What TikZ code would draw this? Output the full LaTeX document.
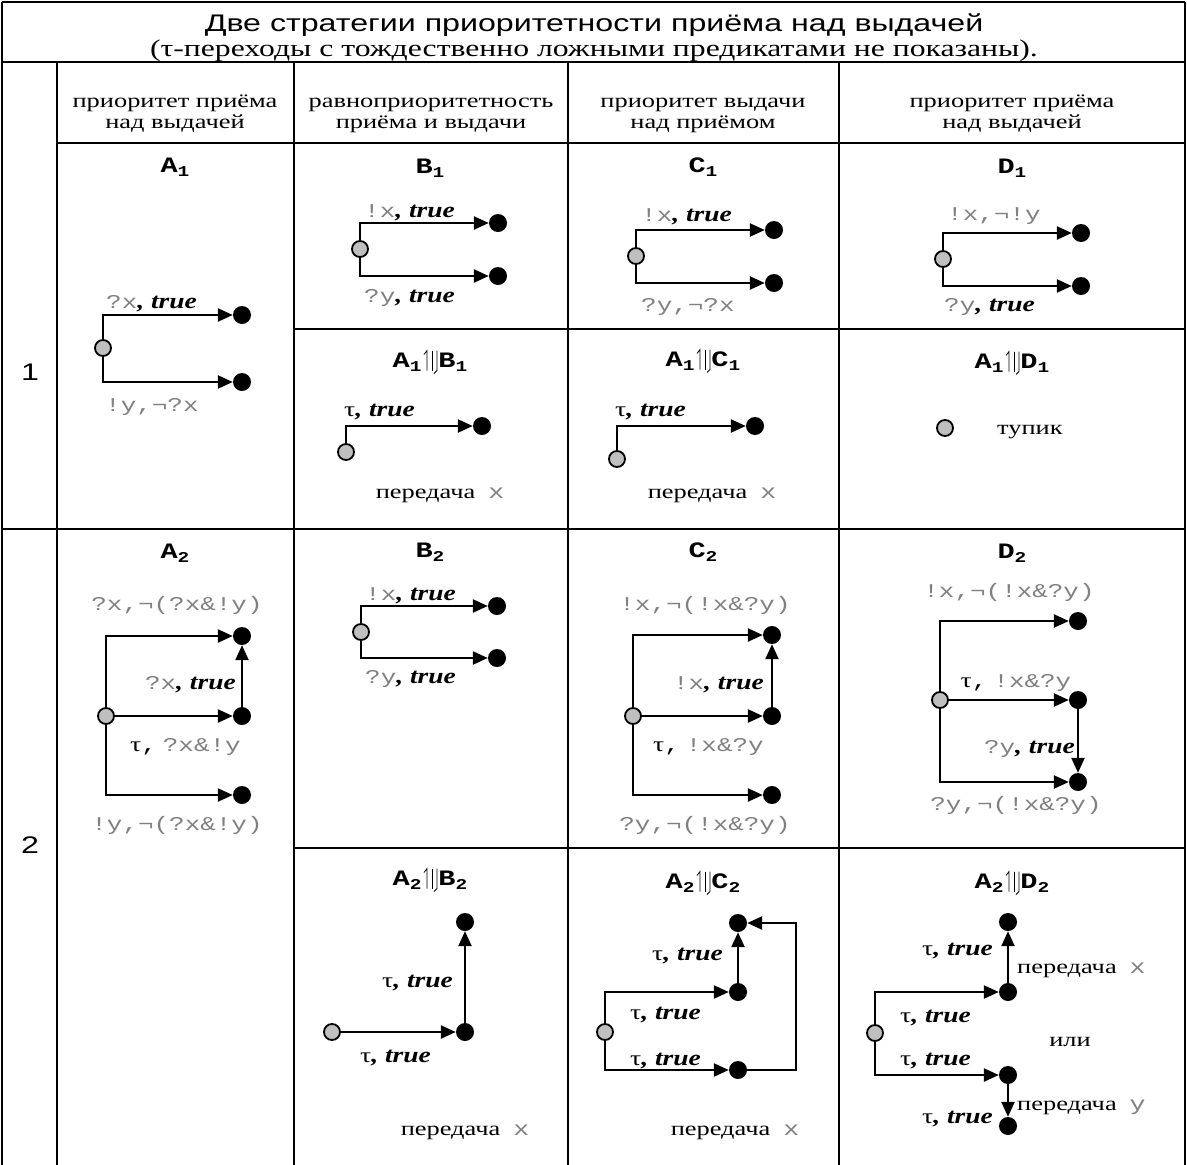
\documentclass[tikz,border=0pt]{standalone}
\usepackage{fontspec}
\setmainfont{Liberation Serif}[FakeStretch=1.32]
\newfontfamily\sansf{Liberation Sans}[FakeStretch=1.34]
\newfontfamily\monof{Liberation Mono}[FakeStretch=1.33]
\newfontfamily\codef{Liberation Mono}[FakeStretch=1.3]
\newfontfamily\trf{Liberation Serif}[FakeStretch=1.25]
\usetikzlibrary{arrows.meta}
\definecolor{txtgray}{gray}{0.5}
\definecolor{stgray}{gray}{0.75}
\newcommand\tru{{\color{black}\trf\bfseries\itshape\fontsize{22}{24}\selectfont, true}}
\newcommand\tauc{{\color{black}\rmfamily\fontsize{21}{24}\selectfont τ}}
\newcommand\nm[2]{{\codef\bfseries\fontsize{22}{24}\selectfont #1\raisebox{-4pt}{\fontsize{15}{15}\selectfont #2}}}
\newcommand\pop{\tikz[baseline=0pt,line width=0.8pt,x=1pt,y=1pt]{\draw (0,13)--(3,17)--(3,-3); \draw (8,17)--(8,-3); \draw (13,17)--(13,-3)--(10,-6);}}
\newcommand\comp[4]{\nm{#1}{#2}\hspace{2pt}\pop\hspace{1pt}\nm{#3}{#4}}
\newcommand\xm[1]{\hspace{13pt}{\monof\color{txtgray}#1}}
\newcommand\tc{\tauc{\color{black},}\hspace{6pt}}
\begin{document}
\begin{tikzpicture}[x=1pt,y=-1pt,
 grid/.style={line width=2pt},
 st/.style={circle,draw,line width=1.8pt,fill=stgray,minimum size=16pt,inner sep=0pt},
 dt/.style={circle,fill=black,minimum size=18pt,inner sep=0pt},
 tr/.style={line width=2.4pt,-{Triangle[length=15pt,width=13pt]}},
 lbl/.style={inner sep=0pt,font=\monof\fontsize{19.5}{22}\selectfont,text=txtgray},
 ser/.style={inner sep=0pt,font=\rmfamily\fontsize{20}{24}\selectfont},
 hd/.style={inner sep=0pt,font=\rmfamily\fontsize{20}{24}\selectfont,anchor=base},
 ttl/.style={inner sep=0pt}]
\useasboundingbox (0,0) rectangle (1187,1165);
% table
\draw[grid] (2,2) -- (1185,2);
\draw[grid] (2,2) -- (2,1165);
\draw[grid] (1185,2) -- (1185,1165);
\draw[grid] (2,62) -- (1185,62);
\draw[grid] (57,62) -- (57,1165);
\draw[grid] (294,62) -- (294,1165);
\draw[grid] (568,62) -- (568,1165);
\draw[grid] (839,62) -- (839,1165);
\draw[grid] (57,143) -- (1185,143);
\draw[grid] (294,329) -- (1185,329);
\draw[grid] (2,529) -- (1185,529);
\draw[grid] (294,848) -- (1185,848);
% title
\node[inner sep=0pt,anchor=base,font=\sansf\fontsize{24}{28}\selectfont] (title) at (594,31) {Две стратегии приоритетности приёма над выдачей};
\node[inner sep=0pt,anchor=base,font=\rmfamily\fontsize{24}{28}\selectfont] (subtitle) at (594,56) {(τ-переходы с тождественно ложными предикатами не показаны).};
% headers
\node[hd] (h1a) at (175,107) {приоритет приёма};
\node[hd] (h1b) at (175,128) {над выдачей};
\node[hd] (h2a) at (431,107) {равноприоритетность};
\node[hd] (h2b) at (431,128) {приёма и выдачи};
\node[hd] (h3a) at (703,107) {приоритет выдачи};
\node[hd] (h3b) at (703,128) {над приёмом};
\node[hd] (h4a) at (1012,107) {приоритет приёма};
\node[hd] (h4b) at (1012,128) {над выдачей};
\node[inner sep=0pt,font=\sansf\fontsize{24}{28}\selectfont] (r1) at (30,372) {1};
\node[inner sep=0pt,font=\sansf\fontsize{24}{28}\selectfont] (r2) at (30,845) {2};
% ---------- A1
\node[ttl] (nA1) at (175,167) {\nm{A}{1}};
\node[st] (a1s) at (103,348) {};
\node[dt] (a1d1) at (242,315) {};
\node[dt] (a1d2) at (242,382) {};
\draw[tr] (a1s) |- (a1d1);
\draw[tr] (a1s) |- (a1d2);
\node[lbl,anchor=base west] (a1l1) at (106,308) {?x\tru};
\node[lbl,anchor=base west] (a1l2) at (105,411) {!y,¬?x};
% ---------- B1
\node[ttl] (nB1) at (430,168) {\nm{B}{1}};
\node[st] (b1s) at (360,249) {};
\node[dt] (b1d1) at (498,223) {};
\node[dt] (b1d2) at (498,276) {};
\draw[tr] (b1s) |- (b1d1);
\draw[tr] (b1s) |- (b1d2);
\node[lbl,anchor=base west] (b1l1) at (364,217) {!x\tru};
\node[lbl,anchor=base west] (b1l2) at (364,302) {?y\tru};
% A1||B1
\node[ttl] (nAB1) at (430,362) {\comp{A}{1}{B}{1}};
\node[st] (ab1s) at (346,452) {};
\node[dt] (ab1d) at (482,426) {};
\draw[tr] (ab1s) |- (ab1d);
\node[lbl,anchor=base west] (ab1l) at (344,416) {\tauc\tru};
\node[ser,anchor=base] (ab1t) at (440,498) {передача\xm{x}};
% ---------- C1
\node[ttl] (nC1) at (703,167) {\nm{C}{1}};
\node[st] (c1s) at (636,256) {};
\node[dt] (c1d1) at (774,230) {};
\node[dt] (c1d2) at (774,283) {};
\draw[tr] (c1s) |- (c1d1);
\draw[tr] (c1s) |- (c1d2);
\node[lbl,anchor=base west] (c1l1) at (641,221) {!x\tru};
\node[lbl,anchor=base west] (c1l2) at (641,311) {?y,¬?x};
% A1||C1
\node[ttl] (nAC1) at (703,361) {\comp{A}{1}{C}{1}};
\node[st] (ac1s) at (617,459) {};
\node[dt] (ac1d) at (755,426) {};
\draw[tr] (ac1s) |- (ac1d);
\node[lbl,anchor=base west] (ac1l) at (615,416) {\tauc\tru};
\node[ser,anchor=base] (ac1t) at (712,498) {передача\xm{x}};
% ---------- D1
\node[ttl] (nD1) at (1012,168) {\nm{D}{1}};
\node[st] (d1s) at (943,259) {};
\node[dt] (d1d1) at (1081,233) {};
\node[dt] (d1d2) at (1081,286) {};
\draw[tr] (d1s) |- (d1d1);
\draw[tr] (d1s) |- (d1d2);
\node[lbl,anchor=base west] (d1l1) at (947,220) {!x,¬!y};
\node[lbl,anchor=base west] (d1l2) at (944,311) {?y\tru};
% A1||D1
\node[ttl] (nAD1) at (1012,363) {\comp{A}{1}{D}{1}};
\node[st] (ad1s) at (945,428) {};
\node[ser,anchor=base west] (ad1t) at (997,434) {тупик};
% ---------- A2
\node[ttl] (nA2) at (175,553) {\nm{A}{2}};
\node[st] (a2s) at (106,716) {};
\node[dt] (a2d1) at (242,636) {};
\node[dt] (a2d2) at (242,716) {};
\node[dt] (a2d3) at (242,795) {};
\draw[tr] (a2s) |- (a2d1);
\draw[tr] (a2s) -- (a2d2);
\draw[tr] (a2s) |- (a2d3);
\draw[tr] (a2d2) -- (a2d1);
\node[lbl,anchor=base] (a2l1) at (177,610) {?x,¬(?x\&!y)};
\node[lbl,anchor=base east] (a2l2) at (236,689) {?x\tru};
\node[lbl,anchor=base west] (a2l3) at (130,751) {\tc?x\&!y};
\node[lbl,anchor=base] (a2l4) at (177,830) {!y,¬(?x\&!y)};
% ---------- B2
\node[ttl] (nB2) at (430,552) {\nm{B}{2}};
\node[st] (b2s) at (361,632) {};
\node[dt] (b2d1) at (497,606) {};
\node[dt] (b2d2) at (497,658) {};
\draw[tr] (b2s) |- (b2d1);
\draw[tr] (b2s) |- (b2d2);
\node[lbl,anchor=base west] (b2l1) at (365,600) {!x\tru};
\node[lbl,anchor=base west] (b2l2) at (365,683) {?y\tru};
% A2||B2
\node[ttl] (nAB2) at (430,880) {\comp{A}{2}{B}{2}};
\node[st] (ab2s) at (332,1032) {};
\node[dt] (ab2d1) at (465,1032) {};
\node[dt] (ab2d2) at (465,922) {};
\draw[tr] (ab2s) -- (ab2d1);
\draw[tr] (ab2d1) -- (ab2d2);
\node[lbl,anchor=base west] (ab2l1) at (382,987) {\tauc\tru};
\node[lbl,anchor=base west] (ab2l2) at (360,1062) {\tauc\tru};
\node[ser,anchor=base] (ab2t) at (465,1135) {передача\xm{x}};
% ---------- C2
\node[ttl] (nC2) at (703,552) {\nm{C}{2}};
\node[st] (c2s) at (633,716) {};
\node[dt] (c2d1) at (772,635) {};
\node[dt] (c2d2) at (772,716) {};
\node[dt] (c2d3) at (772,795) {};
\draw[tr] (c2s) |- (c2d1);
\draw[tr] (c2s) -- (c2d2);
\draw[tr] (c2s) |- (c2d3);
\draw[tr] (c2d2) -- (c2d1);
\node[lbl,anchor=base] (c2l1) at (705,610) {!x,¬(!x\&?y)};
\node[lbl,anchor=base east] (c2l2) at (764,689) {!x\tru};
\node[lbl,anchor=base west] (c2l3) at (653,751) {\tc!x\&?y};
\node[lbl,anchor=base] (c2l4) at (705,830) {?y,¬(!x\&?y)};
% A2||C2
\node[ttl] (nAC2) at (703,883) {\comp{A}{2}{C}{2}};
\node[st] (ac2s) at (605,1032) {};
\node[dt] (ac2t) at (738,923) {};
\node[dt] (ac2m) at (738,992) {};
\node[dt] (ac2b) at (738,1070) {};
\coordinate (ac2c1) at (796,1070);
\coordinate (ac2c2) at (796,923);
\draw[tr] (ac2s) |- (ac2m);
\draw[tr] (ac2s) |- (ac2b);
\draw[tr] (ac2m) -- (ac2t);
\draw[tr] (ac2b) -- (ac2c1) -- (ac2c2) -- (ac2t);
\node[lbl,anchor=base west] (ac2l1) at (652,960) {\tauc\tru};
\node[lbl,anchor=base west] (ac2l2) at (630,1019) {\tauc\tru};
\node[lbl,anchor=base west] (ac2l3) at (630,1065) {\tauc\tru};
\node[ser,anchor=base] (ac2x) at (735,1135) {передача\xm{x}};
% ---------- D2
\node[ttl] (nD2) at (1012,553) {\nm{D}{2}};
\node[st] (d2s) at (940,700) {};
\node[dt] (d2d1) at (1078,621) {};
\node[dt] (d2d2) at (1078,700) {};
\node[dt] (d2d3) at (1078,782) {};
\draw[tr] (d2s) |- (d2d1);
\draw[tr] (d2s) -- (d2d2);
\draw[tr] (d2s) |- (d2d3);
\draw[tr] (d2d2) -- (d2d3);
\node[lbl,anchor=base] (d2l1) at (1009,597) {!x,¬(!x\&?y)};
\node[lbl,anchor=base] (d2l2) at (1016,687) {\tc!x\&?y};
\node[lbl,anchor=base east] (d2l3) at (1075,753) {?y\tru};
\node[lbl,anchor=base] (d2l4) at (1016,810) {?y,¬(!x\&?y)};
% A2||D2
\node[ttl] (nAD2) at (1012,883) {\comp{A}{2}{D}{2}};
\node[st] (ad2s) at (875,1033) {};
\node[dt] (ad2t) at (1008,922) {};
\node[dt] (ad2m1) at (1008,992) {};
\node[dt] (ad2m2) at (1008,1075) {};
\node[dt] (ad2b) at (1008,1126) {};
\draw[tr] (ad2s) |- (ad2m1);
\draw[tr] (ad2s) |- (ad2m2);
\draw[tr] (ad2m1) -- (ad2t);
\draw[tr] (ad2m2) -- (ad2b);
\node[lbl,anchor=base west] (ad2l1) at (922,955) {\tauc\tru};
\node[ser,anchor=base west] (ad2x) at (1017,973) {передача\xm{x}};
\node[lbl,anchor=base west] (ad2l2) at (900,1022) {\tauc\tru};
\node[ser,anchor=base] (ad2o) at (1070,1046) {или};
\node[lbl,anchor=base west] (ad2l3) at (900,1065) {\tauc\tru};
\node[lbl,anchor=base west] (ad2l4) at (922,1123) {\tauc\tru};
\node[ser,anchor=base west] (ad2y) at (1017,1110) {передача\xm{y}};
\end{tikzpicture}
\end{document}
